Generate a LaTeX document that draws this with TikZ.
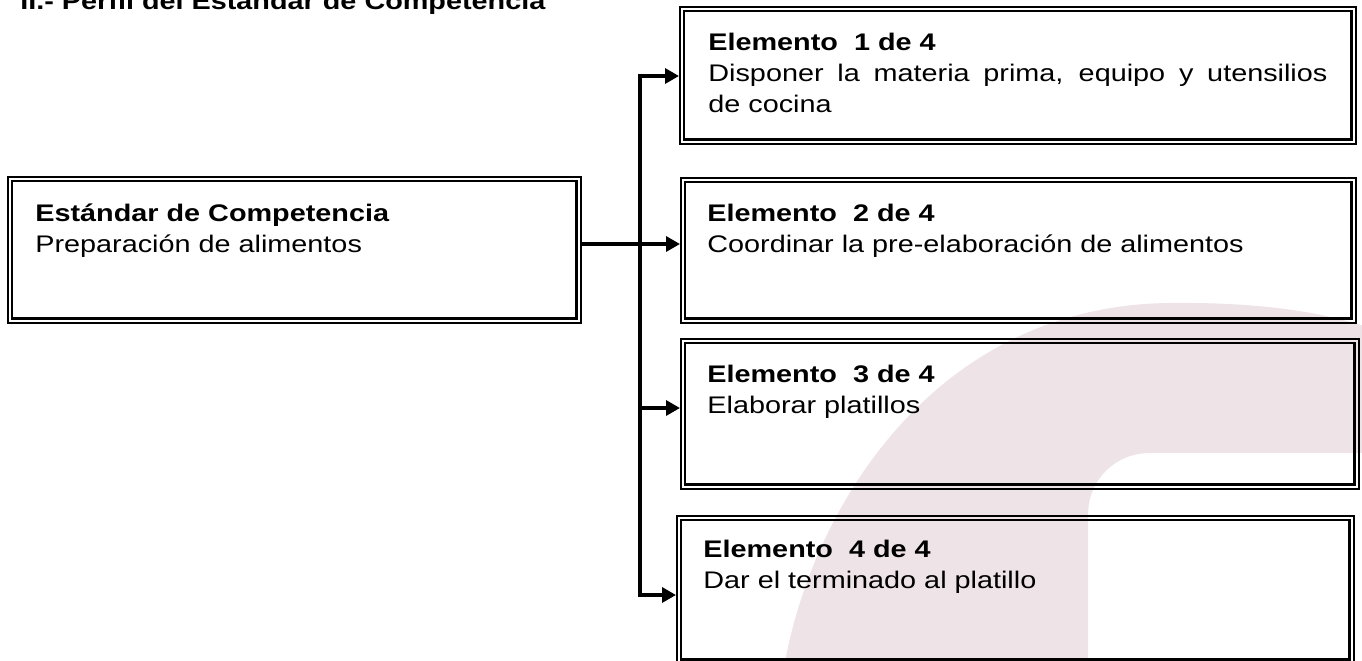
\documentclass[tikz,border=0pt]{standalone}
\usepackage{fontspec}
\setmainfont{Liberation Sans}[FakeStretch=1.2]
\usetikzlibrary{arrows.meta, positioning}
\definecolor{marca}{RGB}{238,227,231}

\begin{document}
\begin{tikzpicture}[x=0.5pt,y=-0.5pt,>={Triangle[length=7pt,width=7.5pt]}]
    \tikzstyle{caja}=[draw=black, line width=0.85pt, rectangle, inner sep=0pt, anchor=north west]
    \tikzstyle{marco}=[line width=1.4pt]
    \tikzstyle{texto}=[anchor=base west, inner sep=0pt, font=\fontsize{12pt}{15.5pt}\selectfont]
    \tikzstyle{liga}=[line width=1.65pt]

    \useasboundingbox (0,0) rectangle (1362,660);

    % marca de agua
    \fill[marca] (785,662) .. controls (815,500) and (940,305) .. (1170,303)
        .. controls (1260,302) and (1320,312) .. (1364,326) -- (1364,453) -- (1150,453)
        .. controls (1115,453) and (1088,480) .. (1088,515) -- (1088,662) -- cycle;

    \node[texto] (titulo) at (20,9) {\textbf{II.- Perfil del Estándar de Competencia}};

    \node[caja, minimum width=286.5pt, minimum height=73pt] (M) at (7,176) {};
    \draw[marco] ([shift={(5,5)}]M.north west) rectangle ([shift={(-5,-5)}]M.south east);
    \node[texto] (M-t) at (35,221) {\parbox[t]{280pt}{\textbf{Estándar de Competencia}\\Preparación de alimentos}};

	\node[caja, minimum width=338pt, minimum height=68.5pt] (E1) at (679,6) {};
	\draw[marco] ([shift={(5,5)}]E1.north west) rectangle ([shift={(-5,-5)}]E1.south east);
	\node[texto] (E1-t) at (708,50) {\parbox[t]{309.5pt}{\textbf{Elemento\ \ 1 de 4}\\Disponer la materia prima, equipo y utensilios\linebreak de cocina}};

	\node[caja, minimum width=337.5pt, minimum height=72.5pt] (E2) at (680,177) {};
	\draw[marco] ([shift={(5,5)}]E2.north west) rectangle ([shift={(-5,-5)}]E2.south east);
	\node[texto] (E2-t) at (707,221) {\parbox[t]{320pt}{\textbf{Elemento\ \ 2 de 4}\\Coordinar la pre-elaboración de alimentos}};

	\node[caja, minimum width=339pt, minimum height=75pt] (E3) at (680,338) {};
	\draw[marco] ([shift={(5,5)}]E3.north west) rectangle ([shift={(-5,-5)}]E3.south east);
	\node[texto] (E3-t) at (707,382) {\parbox[t]{320pt}{\textbf{Elemento\ \ 3 de 4}\\Elaborar platillos}};

	\node[caja, minimum width=338.5pt, minimum height=74pt] (E4) at (676,515) {};
	\draw[marco] ([shift={(5,5)}]E4.north west) rectangle ([shift={(-5,-5)}]E4.south east);
	\node[texto] (E4-t) at (703,557) {\parbox[t]{320pt}{\textbf{Elemento\ \ 4 de 4}\\Dar el terminado al platillo}};

    \coordinate (J1) at (640,76);
    \coordinate (J2) at (640,244);
    \coordinate (J3) at (640,408);
    \coordinate (J4) at (640,595);

    \draw[liga,<->] (J4 -| E4.west) -- (J4) -- (J1) -- (J1 -| E1.west);
    \draw[liga,->] (J2 -| M.east) -- (J2 -| E2.west);
    \draw[liga,->] (J3) -- (J3 -| E3.west);
\end{tikzpicture}
\end{document}
